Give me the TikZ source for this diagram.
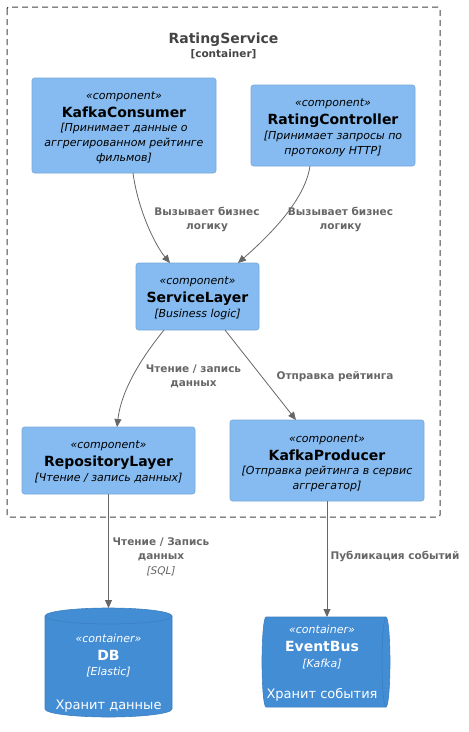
\documentclass[tikz,border=0pt]{standalone}
\usepackage{fontspec}
\setmainfont{DejaVu Sans}
\usetikzlibrary{arrows.meta}
\definecolor{compfill}{HTML}{85BBF0}
\definecolor{compdraw}{HTML}{78A8D8}
\definecolor{contfill}{HTML}{438DD5}
\definecolor{contdraw}{HTML}{3C7FC0}
\definecolor{relgray}{HTML}{666666}
\definecolor{boundgray}{HTML}{444444}
\newcommand\Ln[2]{\rule[-4pt]{0pt}{#1pt}#2}
\newcommand\ctab[1]{{\renewcommand\arraystretch{0}\begin{tabular}[t]{@{}c@{}}#1\end{tabular}}}
\newcommand\fstereo{\fontsize{11}{13}\selectfont\itshape}
\newcommand\fname{\fontsize{14}{16}\selectfont\bfseries}
\newcommand\fdesc{\fontsize{11}{13}\selectfont\itshape}
\newcommand\fbottom{\fontsize{13}{15}\selectfont}
\newcommand\flab{\fontsize{10.5}{13}\selectfont\bfseries}
\newcommand\flabit{\fontsize{10.5}{13}\selectfont\itshape}
\tikzset{
  comp/.style={draw=compdraw, fill=compfill, rounded corners=2.5pt, line width=0.6pt, inner sep=0pt, outer sep=0pt},
  contbox/.style={inner sep=0pt, outer sep=0pt},
  txt/.style={anchor=base, inner sep=0pt, outer sep=0pt},
  rel/.style={draw=relgray, line width=0.8pt, -{Triangle[length=8pt,width=7pt]}},
  rellab/.style={anchor=base, inner sep=0pt, outer sep=0pt, text=relgray},
  bound/.style={draw=boundgray, line width=1pt, dash pattern=on 6pt off 4pt, rounded corners=2pt},
}
\begin{document}
\begin{tikzpicture}[x=1pt,y=-1pt]
\useasboundingbox (0,0) rectangle (469,732);
% boundary
\draw[bound] (7,7) rectangle (440,517);
\node[txt, text=boundgray] (title) at (223.5,43) {\ctab{\Ln{10}{\fontsize{14}{16}\selectfont\bfseries RatingService}\\ \Ln{14}{\fontsize{10.5}{12}\selectfont\bfseries [container]}}};

% components
\node[comp, minimum width=184pt, minimum height=95pt] (KC) at (124,125.5) {};
\node[txt] (KCt) at (124,99) {\ctab{\Ln{10}{\fstereo «component»}\\ \Ln{18}{\fname KafkaConsumer}\\ \Ln{14.5}{\fdesc [Принимает данные о}\\ \Ln{15}{\fdesc аггрегированном рейтинге}\\ \Ln{15}{\fdesc фильмов]}}};

\node[comp, minimum width=164pt, minimum height=81pt] (RC) at (333,125.5) {};
\node[txt] (RCt) at (333,106.5) {\ctab{\Ln{10}{\fstereo «component»}\\ \Ln{18}{\fname RatingController}\\ \Ln{14.5}{\fdesc [Принимает запросы по}\\ \Ln{15}{\fdesc протоколу HTTP]}}};

\node[comp, minimum width=123pt, minimum height=67pt] (SL) at (197.5,296.5) {};
\node[txt] (SLt) at (197.5,284.5) {\ctab{\Ln{10}{\fstereo «component»}\\ \Ln{18}{\fname ServiceLayer}\\ \Ln{14.5}{\fdesc [Business logic]}}};

\node[comp, minimum width=173pt, minimum height=67pt] (Repo) at (108.5,460.5) {};
\node[txt] (Repot) at (108.5,448.5) {\ctab{\Ln{10}{\fstereo «component»}\\ \Ln{18}{\fname RepositoryLayer}\\ \Ln{14.5}{\fdesc [Чтение / запись данных]}}};

\node[comp, minimum width=194pt, minimum height=81pt] (KP) at (327,460.5) {};
\node[txt] (KPt) at (327,442) {\ctab{\Ln{10}{\fstereo «component»}\\ \Ln{18}{\fname KafkaProducer}\\ \Ln{14.5}{\fdesc [Отправка рейтинга в сервис}\\ \Ln{15}{\fdesc аггрегатор]}}};

% DB cylinder
\filldraw[fill=contfill, draw=contdraw, line width=0.6pt]
  (45,616) -- (45,709) .. controls (45,713.4) and (73.4,717) .. (108.5,717)
  .. controls (143.6,717) and (172,713.4) .. (172,709) -- (172,616)
  .. controls (172,611.6) and (143.6,608) .. (108.5,608)
  .. controls (73.4,608) and (45,611.6) .. (45,616) -- cycle;
\draw[contdraw, line width=0.6pt] (45,616) .. controls (45,620.4) and (73.4,624) .. (108.5,624)
  .. controls (143.6,624) and (172,620.4) .. (172,616);
\node[contbox, minimum width=127pt, minimum height=109pt] (DB) at (108.5,662.5) {};
\node[txt, text=white] (DBt) at (108.5,642) {\ctab{\Ln{10}{\fstereo «container»}\\ \Ln{18}{\fname DB}\\ \Ln{15.5}{\fdesc [Elastic]}\\ \Ln{33.5}{\fbottom Хранит данные}}};

% EventBus queue
\filldraw[fill=contfill, draw=contdraw, line width=0.6pt]
  (266,617) -- (386,617) .. controls (388.2,617) and (390,637.1) .. (390,662)
  .. controls (390,686.9) and (388.2,707) .. (386,707) -- (266,707)
  .. controls (263.8,707) and (262,686.9) .. (262,662)
  .. controls (262,637.1) and (263.8,617) .. (266,617) -- cycle;
\draw[contdraw, line width=0.6pt] (386,617) .. controls (383.8,617) and (382,637.1) .. (382,662)
  .. controls (382,686.9) and (383.8,707) .. (386,707);
\node[contbox, minimum width=128pt, minimum height=90pt] (EB) at (326,662) {};
\node[txt, text=white] (EBt) at (322,633) {\ctab{\Ln{10}{\fstereo «container»}\\ \Ln{18}{\fname EventBus}\\ \Ln{16}{\fdesc [Kafka]}}};
\node[txt, text=white] (EBb) at (322,698) {\fbottom Хранит события};

% relations
\draw[rel] ([xshift=9pt]KC.south) .. controls (138,210) and (155,245) .. ([xshift=-27.5pt]SL.north);
\node[rellab] (l1) at (207,215.5) {\ctab{\Ln{10}{\flab Вызывает бизнес}\\ \Ln{14}{\flab логику}}};

\draw[rel] ([xshift=-23pt]RC.south) .. controls (305,200) and (270,235) .. ([xshift=40.5pt]SL.north);
\node[rellab] (l2) at (340.5,215.5) {\ctab{\Ln{10}{\flab Вызывает бизнес}\\ \Ln{14}{\flab логику}}};

\draw[rel] ([xshift=-33.5pt]SL.south) .. controls (148,350) and (122,385) .. ([xshift=8.5pt]Repo.north);
\node[rellab] (l3) at (193.5,372) {\ctab{\Ln{10}{\flab Чтение / запись}\\ \Ln{14.5}{\flab данных}}};

\draw[rel] ([xshift=27.5pt]SL.south) -- ([xshift=-31pt]KP.north);
\node[rellab] (l4) at (335,379.5) {\flab Отправка рейтинга};

\draw[rel] (Repo.south) -- (DB.north);
\node[rellab] (l5) at (161,545.5) {\ctab{\Ln{10}{\flab Чтение / Запись}\\ \Ln{14}{\flab данных}\\ \Ln{14.5}{\flabit [SQL]}}};

\draw[rel] (KP.south) -- (KP.south |- EB.north);
\node[rellab] (l6) at (395,559) {\flab Публикация событий};
\end{tikzpicture}
\end{document}
